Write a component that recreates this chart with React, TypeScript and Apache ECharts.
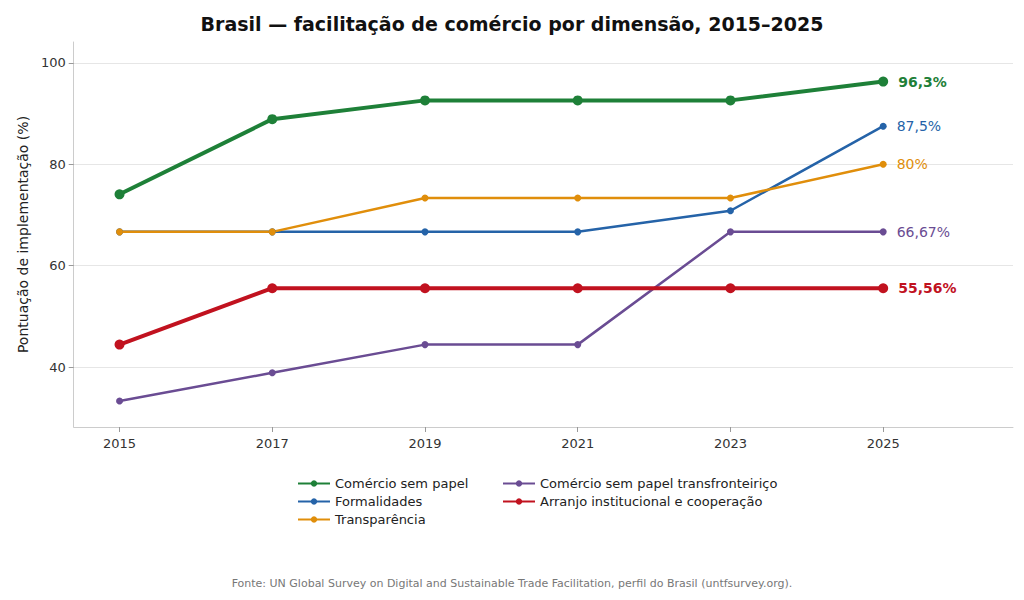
import React, { useEffect, useRef } from 'react';
import * as echarts from 'echarts';

const years = [2015, 2017, 2019, 2021, 2023, 2025];
const yTicks = [40, 60, 80, 100];

const semPapel = [74.07, 88.89, 92.59, 92.59, 92.59, 96.3];
const formalidades = [66.67, 66.67, 66.67, 66.67, 70.83, 87.5];
const transparencia = [66.67, 66.67, 73.33, 73.33, 73.33, 80];
const transfronteirico = [33.33, 38.89, 44.44, 44.44, 66.67, 66.67];
const arranjo = [44.44, 55.56, 55.56, 55.56, 55.56, 55.56];

const endLabels = ['96,3%', '87,5%', '80%', '66,67%', '55,56%'];

const FONT = 'DejaVu Sans';

const App: React.FC = () => {
    const chartRef = useRef<HTMLDivElement>(null);

    useEffect(() => {
        if (!chartRef.current) return;
        const chart = echarts.init(chartRef.current, undefined, { renderer: 'svg' });

        const mk = (name: string, vals: number[], color: string, thick: boolean, label: string) => ({
            name,
            type: 'line' as const,
            data: vals.map((v, i) => [years[i], v]),
            color,
            lineStyle: { width: thick ? 4 : 2.5, color },
            symbol: 'circle',
            symbolSize: thick ? 10 : 7,
            itemStyle: { color },
            label: {
                show: true,
                position: 'right',
                distance: 10,
                fontFamily: FONT,
                fontSize: 14,
                fontWeight: thick ? 'bold' : 'normal',
                color,
                formatter: (p: any) => (p.dataIndex === vals.length - 1 ? label : ''),
            },
        });

        const legendBase = {
            orient: 'vertical' as const,
            top: 464,
            itemGap: 5,
            itemWidth: 32,
            itemHeight: 8,
            textStyle: { fontFamily: FONT, fontSize: 13, color: '#222' },
        };

        const option: echarts.EChartsOption = {
            animation: false,
            textStyle: { fontFamily: FONT },
            title: {
                text: 'Brasil — facilitação de comércio por dimensão, 2015–2025',
                left: 'center',
                top: 1,
                textStyle: { fontFamily: FONT, fontSize: 19, fontWeight: 'bold', color: '#111' },
            },
            legend: [
                { ...legendBase, data: ['Comércio sem papel', 'Formalidades', 'Transparência'], left: 284 },
                { ...legendBase, data: ['Comércio sem papel transfronteiriço', 'Arranjo institucional e cooperação'], left: 489 },
            ],
            grid: { left: 60, right: 3, top: 34, bottom: 165 },
            xAxis: {
                type: 'value',
                min: 2014.4,
                max: 2026.7,
                axisLine: { lineStyle: { color: '#ccc' } },
                axisTick: { customValues: years, lineStyle: { color: '#999' } } as any,
                axisLabel: { customValues: years, formatter: (v: number) => String(v), fontFamily: FONT, fontSize: 13, color: '#333', margin: 10 } as any,
                splitLine: { show: false },
            },
            yAxis: {
                type: 'value',
                min: 28.2,
                max: 104.1,
                name: 'Pontuação de implementação (%)',
                nameLocation: 'middle',
                nameGap: 40,
                nameTextStyle: { fontFamily: FONT, fontSize: 14, color: '#222' },
                axisLine: { show: true, lineStyle: { color: '#ccc' } },
                axisTick: { show: true, customValues: yTicks, lineStyle: { color: '#999' } } as any,
                axisLabel: { customValues: yTicks, fontFamily: FONT, fontSize: 13, color: '#333' } as any,
                splitLine: { show: true, lineStyle: { color: '#e6e6e6' } },
            },
            graphic: [
                {
                    type: 'text',
                    left: 'center',
                    top: 570,
                    style: {
                        text: 'Fonte: UN Global Survey on Digital and Sustainable Trade Facilitation, perfil do Brasil (untfsurvey.org).',
                        fontFamily: FONT,
                        fontSize: 11,
                        fill: '#777',
                    },
                },
            ],
            series: [
                mk('Comércio sem papel', semPapel, '#1e8038', true, endLabels[0]),
                mk('Formalidades', formalidades, '#2563a8', false, endLabels[1]),
                mk('Transparência', transparencia, '#e08e0b', false, endLabels[2]),
                mk('Comércio sem papel transfronteiriço', transfronteirico, '#6a4c93', false, endLabels[3]),
                mk('Arranjo institucional e cooperação', arranjo, '#c1121f', true, endLabels[4]),
            ] as any,
        };

        chart.setOption(option);
        return () => chart.dispose();
    }, []);

    return <div ref={chartRef} style={{ width: '1008px', height: '584px' }} />;
};

export default App;
